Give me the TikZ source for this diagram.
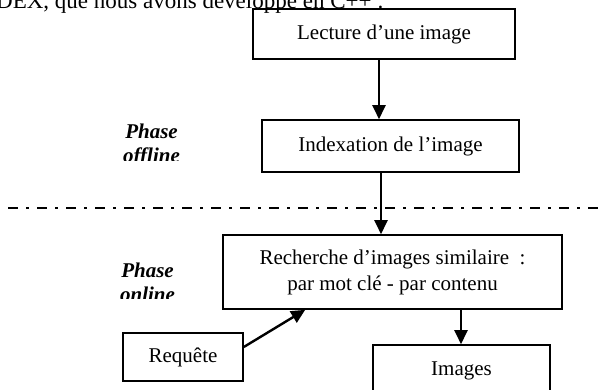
\documentclass[tikz,border=0pt]{standalone}
\usepackage{fontspec}
\setmainfont{Liberation Serif}
\usetikzlibrary{arrows.meta}
\begin{document}
\begin{tikzpicture}[x=1pt,y=-1pt,
  box/.style={draw, line width=1.6pt, inner sep=0pt, align=center,
    font=\fontsize{21}{26}\selectfont},
  arr/.style={line width=2.4pt, -{Triangle[width=13pt,length=14pt]}},
  phase/.style={font=\fontsize{21}{24}\selectfont\bfseries\itshape,
    inner sep=0pt, anchor=base},
  sepline/.style={line width=2.6pt, dash pattern=on 10pt off 8pt on 3pt off 8pt}]
\useasboundingbox (0,0) rectangle (603,389);
\clip (0,0) rectangle (603,389);

% running text above the figure
\node[anchor=base west, inner sep=0pt, font=\fontsize{23}{26}\selectfont]
  (intro) at (-4,8) {DEX, que nous avons développé en C++ :};

% offline / online separator
\coordinate (sepL) at (8,208);
\coordinate (sepR) at (603,208);
\draw[sepline] (sepL) -- (sepR);

% processing steps
\node[box, minimum width=262pt, minimum height=50pt] (lecture) at (384,34) {Lecture d’une image};
\node[box, minimum width=257pt, minimum height=52pt] (index) at (390.5,146) {Indexation de l’image};
\node[box, minimum width=339pt, minimum height=74pt] (rech) at (392.5,272)
  {Recherche d’images similaire~~:\\par mot clé - par contenu};
\node[box, minimum width=120pt, minimum height=48pt] (req) at (183,357) {Requête};
\node[box, minimum width=177pt, minimum height=52pt] (images) at (461.5,371) {Images};

% connectors
\draw[arr] ([xshift=-5pt]lecture.south) -- ([xshift=-5pt]lecture.south |- index.north);
\draw[arr] ([xshift=-9.5pt]index.south) -- ([xshift=-9.5pt]index.south |- rech.north);
\draw[arr] ([xshift=-0.5pt]images.north |- rech.south) -- ([xshift=-0.5pt]images.north);
\draw[arr] ([yshift=10pt]req.east) -- ([xshift=83pt]rech.south west);

% phase labels (text boxes cut at their lower edge)
\begin{scope}
  \clip (95,110) rectangle (220,160);
  \node[phase] (offA) at (151.5,138) {Phase};
  \node[phase] (offB) at (151.5,162) {offline};
\end{scope}
\begin{scope}
  \clip (95,250) rectangle (220,298);
  \node[phase] (onA) at (147.5,277) {Phase};
  \node[phase] (onB) at (147.5,301) {online};
\end{scope}
\end{tikzpicture}
\end{document}
